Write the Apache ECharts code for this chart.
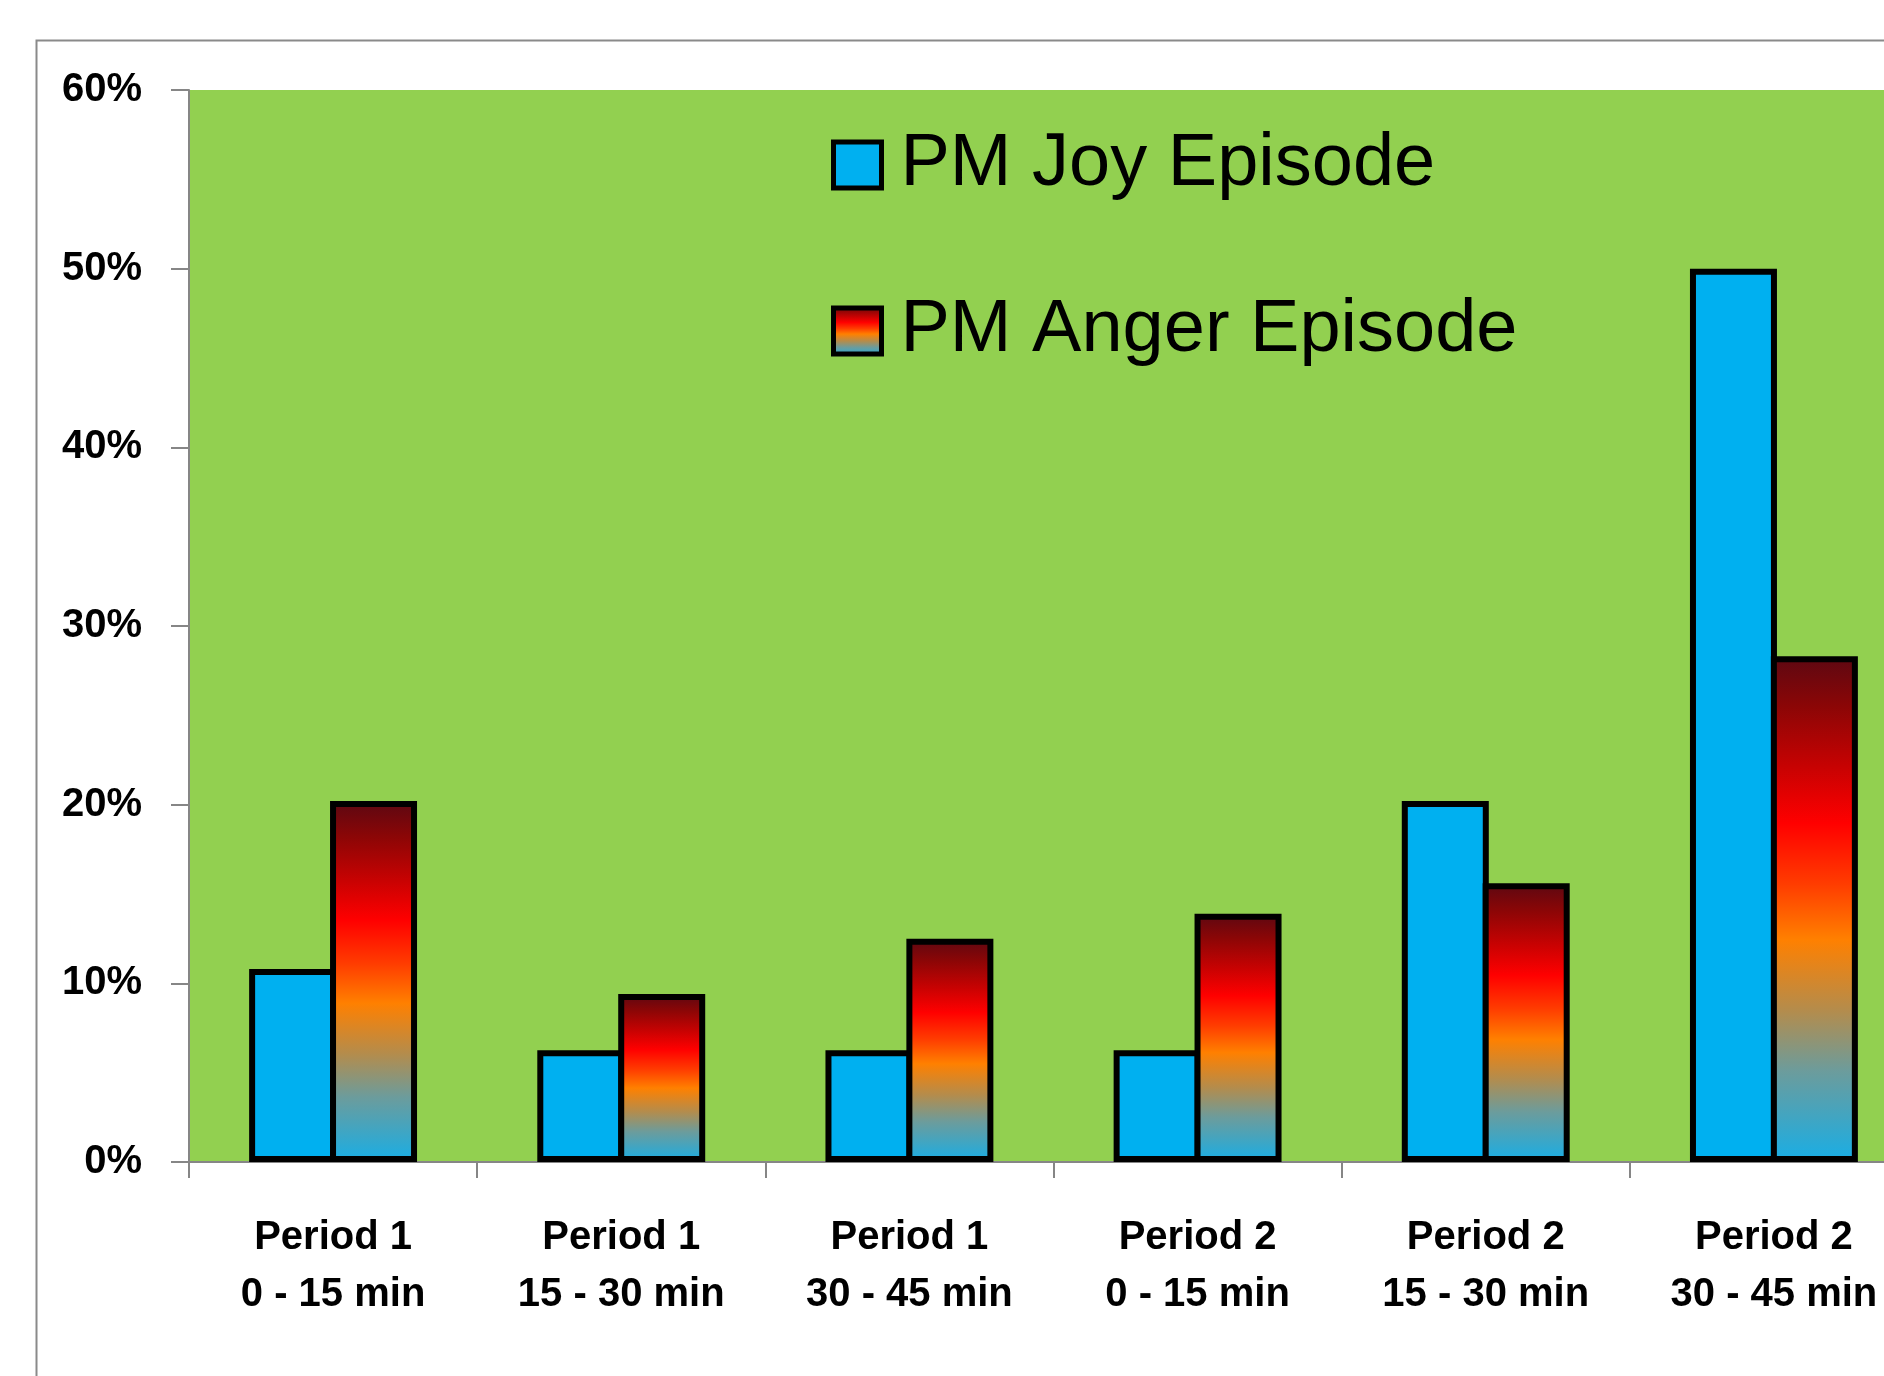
<!DOCTYPE html>
<html><head><meta charset="utf-8">
<script src="https://cdn.jsdelivr.net/npm/echarts@6/dist/echarts.min.js"></script>
<style>html,body{margin:0;padding:0;background:#fff}#c{width:1884px;height:1376px}</style>
</head><body><div id="c"></div>
<script>
const categories = ['Period 1\n0 - 15 min', 'Period 1\n15 - 30 min', 'Period 1\n30 - 45 min',
                    'Period 2\n0 - 15 min', 'Period 2\n15 - 30 min', 'Period 2\n30 - 45 min'];
const seriesNames = ['PM Joy Episode', 'PM Anger Episode'];
const joyValues = [10.8, 6.25, 6.25, 6.25, 20.2, 50.0];
const angerValues = [20.2, 9.4, 12.5, 13.9, 15.6, 28.3];
const yMin = 0, yMax = 60, yStep = 10;

const angerGradient = new echarts.graphic.LinearGradient(0, 0, 0, 1, [
  {offset: 0.00, color: '#5c0812'},
  {offset: 0.10, color: '#8c0606'},
  {offset: 0.22, color: '#c80202'},
  {offset: 0.33, color: '#ff0000'},
  {offset: 0.45, color: '#ff3c00'},
  {offset: 0.56, color: '#ff8000'},
  {offset: 0.70, color: '#b48c4c'},
  {offset: 0.82, color: '#6c9c9c'},
  {offset: 1.00, color: '#18aee6'}
]);

const chart = echarts.init(document.getElementById('c'), null, {renderer: 'canvas'});
chart.setOption({
  backgroundColor: '#ffffff',
  animation: false,
  graphic: [{
    type: 'rect', left: 34, top: 38, z: -10,
    shape: {width: 2000, height: 2000},
    style: {fill: 'none', stroke: '#8a8a8a', lineWidth: 2}
  }],
  grid: {
    left: 189, top: 90, bottom: 214, width: 1729,
    outerBoundsMode: 'none', containLabel: false,
    show: true, backgroundColor: '#92D050', borderWidth: 0
  },
  legend: {
    orient: 'vertical', left: 826, top: 120,
    icon: 'rect', itemWidth: 48, itemHeight: 46, itemGap: 86,
    itemStyle: {borderColor: '#000', borderWidth: 5},
    textStyle: {fontFamily: 'Liberation Sans', fontSize: 74, color: '#000', lineHeight: 80, padding: [0, 0, 0, 14]},
    data: seriesNames
  },
  xAxis: {
    type: 'category', data: categories,
    axisLine: {show: true, lineStyle: {color: '#868686', width: 2}},
    axisTick: {show: true, length: 16, lineStyle: {color: '#868686', width: 2}},
    axisLabel: {fontFamily: 'Liberation Sans', fontWeight: 'bold', fontSize: 40, color: '#000', lineHeight: 57, margin: 47}
  },
  yAxis: {
    type: 'value', min: yMin, max: yMax, interval: yStep,
    splitLine: {show: false},
    axisLine: {show: true, lineStyle: {color: '#868686', width: 2}},
    axisTick: {show: true, inside: false, length: 18, lineStyle: {color: '#868686', width: 2}},
    axisLabel: {formatter: '{value}%', fontFamily: 'Liberation Sans', fontWeight: 'bold', fontSize: 40, color: '#000', margin: 47}
  },
  series: [{
    name: seriesNames[0], type: 'bar', data: joyValues,
    barWidth: 87, barGap: '-7%',
    itemStyle: {color: '#00B0F0', borderColor: '#000', borderWidth: 6}
  }, {
    name: seriesNames[1], type: 'bar', data: angerValues,
    barWidth: 87, barGap: '-7%',
    itemStyle: {color: angerGradient, borderColor: '#000', borderWidth: 6}
  }]
});
</script></body></html>
